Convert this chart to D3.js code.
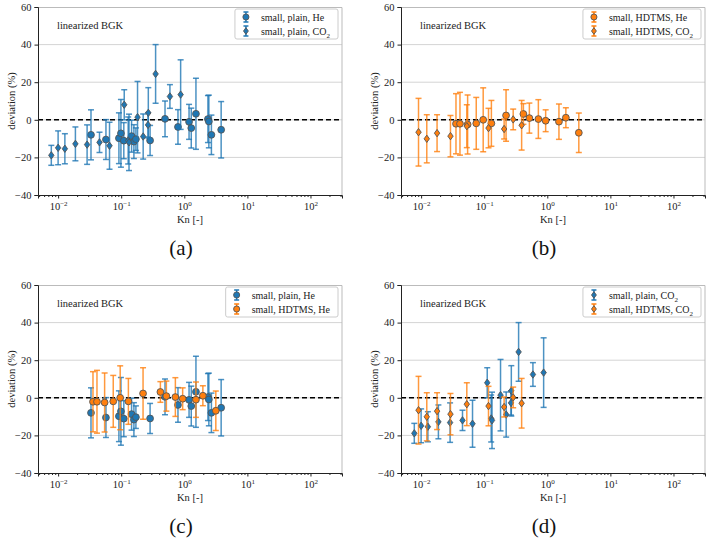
<!DOCTYPE html>
<html>
<head>
<meta charset="utf-8">
<script src="https://cdn.jsdelivr.net/npm/d3@7"></script>
<style>
  body { margin: 0; background: #fff; }
  svg text { font-family: "Times New Roman", "Liberation Serif", "DejaVu Serif", serif !important; }
</style>
</head>
<body>
<script>
// series data: [Kn, deviation %, error %]
const plainHe = [
  [0.0332, -8.0, 13.3], [0.0573, -10.5, 10.6], [0.092, -9.8, 13.5], [0.099, -7.2, 18],
  [0.110, -11.1, 9.6], [0.146, -8.7, 8.5], [0.159, -11.6, 9], [0.171, -10.3, 6],
  [0.287, -11.0, 8], [0.495, 0.5, 9.5], [0.794, -3.8, 9.2], [1.19, -1.1, 9.3],
  [1.29, -4.4, 10.6], [1.53, 3.2, 18.9], [2.37, 0.4, 12.5], [2.45, -0.9, 14],
  [2.69, -8.0, 10.5], [3.84, -5.3, 15]
];
const plainCO2 = [
  [0.0078, -18.9, 5.3], [0.0100, -14.9, 9], [0.0128, -15.4, 8], [0.0188, -12.8, 9],
  [0.0288, -13.2, 10.5], [0.0453, -12.0, 5.4], [0.0653, -13.8, 12.5], [0.1117, 8.0, 8],
  [0.129, -11.0, 12.5], [0.133, -12.0, 15], [0.1815, 1.4, 19], [0.223, -8.9, 12],
  [0.266, -2.7, 6.5], [0.269, 3.7, 13.4], [0.351, 24.4, 15.6], [0.592, 12.4, 6.3],
  [0.875, 13.4, 18.5]
];
const hdtmsHe = [
  [0.0357, -2.1, 16], [0.0413, -2.1, 16.7], [0.0546, -2.5, 15.7], [0.0748, -1.9, 13.8],
  [0.0964, 0.0, 17], [0.130, -1.9, 12.2], [0.222, 2.3, 13.7], [0.418, 3.1, 5.5],
  [0.52, 0.9, 8], [0.722, 0.4, 10.3], [0.942, -0.5, 5.8], [1.53, -1.0, 9.4],
  [1.97, 1.1, 5.3], [3.16, -6.9, 10.5]
];
const hdtmsCO2 = [
  [0.0091, -6.6, 18], [0.0123, -10.1, 12.8], [0.0179, -7.1, 9.8], [0.0292, -8.7, 11],
  [0.053, -3.4, 11.4], [0.117, -4.4, 10.5], [0.207, -4.9, 5.3], [0.288, 0.2, 5.5],
  [0.392, -2.9, 13.2]
];

const yTicks = [-40, -20, 0, 20, 40, 60];
const xMajor = [0.01, 0.1, 1, 10, 100];
const xExp = [-2, -1, 0, 1, 2];

const blue = "#1f77b4", orange = "#ff7f0e";

const series = {
  plainHe:  { data: plainHe,  color: blue,   shape: "circle",  label: ["small, plain, He", ""] },
  plainCO2: { data: plainCO2, color: blue,   shape: "diamond", label: ["small, plain, CO", "2"] },
  hdtmsHe:  { data: hdtmsHe,  color: orange, shape: "circle",  label: ["small, HDTMS, He", ""] },
  hdtmsCO2: { data: hdtmsCO2, color: orange, shape: "diamond", label: ["small, HDTMS, CO", "2"] }
};

const panels = [
  { tag: "(a)", left: 38,  top: 7,   keys: ["plainHe", "plainCO2"] },
  { tag: "(b)", left: 401, top: 7,   keys: ["hdtmsHe", "hdtmsCO2"] },
  { tag: "(c)", left: 38,  top: 285, keys: ["plainHe", "hdtmsHe"] },
  { tag: "(d)", left: 401, top: 285, keys: ["plainCO2", "hdtmsCO2"] }
];

const W = 304, H = 188;

const svg = d3.select("body").append("svg")
  .attr("width", 708).attr("height", 539);

const x = d3.scaleLog().domain([0.0048, 316]).range([0, W]);
const y = d3.scaleLinear().domain([-40, 60]).range([H, 0]);

// minor tick values for the log axis
const minor = [];
for (let e = -3; e <= 2; e++) {
  for (let m = 2; m <= 9; m++) {
    const v = m * Math.pow(10, e);
    if (v >= 0.0048 && v <= 316) minor.push(v);
  }
}

function marker(g, shape, cx, cy, color, s) {
  if (shape === "circle") {
    g.append("circle").attr("cx", cx).attr("cy", cy).attr("r", 3.4 * s)
      .attr("fill", color).attr("stroke", "#555").attr("stroke-width", 0.9);
  } else {
    const w = 2.7 * s, h = 3.7 * s;
    g.append("path")
      .attr("d", `M${cx},${cy - h}L${cx + w},${cy}L${cx},${cy + h}L${cx - w},${cy}Z`)
      .attr("fill", color).attr("stroke", "#555").attr("stroke-width", 0.9);
  }
}

panels.forEach(p => {
  const g = svg.append("g").attr("transform", `translate(${p.left},${p.top})`);

  // grid
  g.selectAll(".grid").data(yTicks.filter(d => d !== -40 && d !== 60)).enter()
    .append("line").attr("class", "grid")
    .attr("x1", 0).attr("x2", W)
    .attr("y1", d => y(d)).attr("y2", d => y(d))
    .attr("stroke", "#d4d4d4").attr("stroke-width", 1);

  // top/right frame
  g.append("path").attr("d", `M0,0.5H${W}V${H}`)
    .attr("fill", "none").attr("stroke", "#bbb").attr("stroke-width", 1);

  // zero line
  g.append("line").attr("x1", 0).attr("x2", W).attr("y1", y(0)).attr("y2", y(0))
    .attr("stroke", "#000").attr("stroke-width", 1.6).attr("stroke-dasharray", "5,3");

  // axes
  const yAxis = g.append("g").call(d3.axisLeft(y).tickValues(yTicks).tickSize(3.5)
    .tickFormat(d => d < 0 ? "\u2212" + Math.abs(d) : d));
  const xMin = g.append("g").attr("transform", `translate(0,${H})`)
    .call(d3.axisBottom(x).tickValues(minor).tickSize(2).tickFormat(""));
  const xAx = g.append("g").attr("transform", `translate(0,${H})`)
    .call(d3.axisBottom(x).tickValues(xMajor).tickSize(3.5).tickFormat(""));
  xAx.selectAll(".tick text").each(function(d, i) {
    const t = d3.select(this).attr("dy", null).attr("y", 15);
    t.append("tspan").text("10");
    t.append("tspan").attr("dy", -4).attr("font-size", 7)
      .text(xExp[i] < 0 ? "\u2212" + Math.abs(xExp[i]) : xExp[i]);
  });
  [yAxis, xMin, xAx].forEach(a => {
    a.selectAll(".domain").attr("stroke", "#222");
    a.selectAll(".tick line").attr("stroke", "#222");
    a.selectAll("text").attr("font-size", 10.5).attr("fill", "#222");
  });
  xMin.select(".domain").remove();

  // labels
  g.append("text").attr("x", W / 2).attr("y", H + 28).attr("text-anchor", "middle")
    .attr("font-size", 10.5).attr("fill", "#222").text("Kn [-]");
  g.append("text").attr("transform", `translate(-23,${H / 2}) rotate(-90)`)
    .attr("text-anchor", "middle").attr("font-size", 10.5).attr("fill", "#222")
    .text("deviation (%)");
  g.append("text").attr("x", 19).attr("y", 22).attr("font-size", 10.5).attr("fill", "#222")
    .text("linearized BGK");
  svg.append("text").attr("x", p.left + 143).attr("y", p.top + 248).attr("text-anchor", "middle")
    .attr("font-size", 21).attr("fill", "#111").text(p.tag);

  // data
  p.keys.forEach(k => {
    const s = series[k];
    const sg = g.append("g");
    const bars = sg.append("g").attr("stroke", s.color).attr("stroke-width", 1.5)
      .attr("stroke-opacity", 0.8);
    s.data.forEach(([kn, dev, err]) => {
      const cx = x(kn);
      bars.append("line").attr("x1", cx).attr("x2", cx)
        .attr("y1", y(dev + err)).attr("y2", y(dev - err));
      [dev + err, dev - err].forEach(v => bars.append("line")
        .attr("x1", cx - 3).attr("x2", cx + 3).attr("y1", y(v)).attr("y2", y(v)));
    });
    s.data.forEach(([kn, dev]) => marker(sg, s.shape, x(kn), y(dev), s.color, 1));
  });

  // legend
  const lg = g.append("g");
  const box = lg.append("rect").attr("fill", "#fff").attr("stroke", "#ccc")
    .attr("rx", 2).attr("stroke-width", 1);
  let maxW = 0;
  p.keys.forEach((k, i) => {
    const s = series[k];
    const row = lg.append("g").attr("transform", `translate(0,${i * 14})`);
    const t = row.append("text").attr("x", 26).attr("y", 4).attr("font-size", 10).attr("fill", "#222");
    t.append("tspan").text(s.label[0]);
    if (s.label[1]) t.append("tspan").attr("dy", 2.5).attr("font-size", 7).text(s.label[1]);
    maxW = Math.max(maxW, t.node().getComputedTextLength());
    row.append("line").attr("x1", 11).attr("x2", 11).attr("y1", -5).attr("y2", 5)
      .attr("stroke", s.color).attr("stroke-width", 1.5);
    [-5, 5].forEach(v => row.append("line").attr("x1", 8.5).attr("x2", 13.5)
      .attr("y1", v).attr("y2", v).attr("stroke", s.color).attr("stroke-width", 1.5));
    marker(row, s.shape, 11, 0, s.color, 0.9);
  });
  const bw = maxW + 34;
  box.attr("x", 0).attr("y", -8).attr("width", bw).attr("height", 30);
  lg.attr("transform", `translate(${W - 4 - bw},${10})`);
});
</script>
</body>
</html>
